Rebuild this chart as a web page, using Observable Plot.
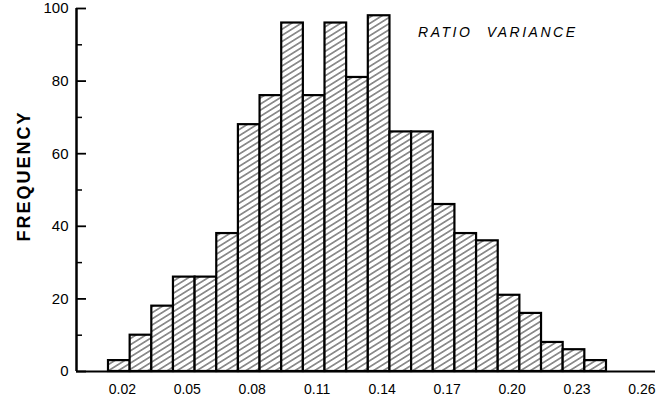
<!DOCTYPE html>
<html><head><meta charset="utf-8">
<script src="https://cdn.jsdelivr.net/npm/d3@7"></script>
<script src="https://cdn.jsdelivr.net/npm/@observablehq/plot@0.6"></script>
<style>body{margin:0;background:#fff}</style>
</head><body>
<svg width="0" height="0" style="position:absolute">
  <defs>
    <pattern id="hatch" patternUnits="userSpaceOnUse" width="10" height="5.2" patternTransform="rotate(-32)">
      <rect width="10" height="5.2" fill="#fff"></rect>
      <line x1="0" x2="10" y1="2.6" y2="2.6" stroke="#333" stroke-width="1"></line>
    </pattern>
  </defs>
</svg>
<div id="chart"></div>
<script>
const binCenters = [0.02,0.03,0.04,0.05,0.06,0.07,0.08,0.09,0.10,0.11,0.12,0.13,0.14,0.15,0.16,0.17,0.18,0.19,0.20,0.21,0.22,0.23,0.24];
const frequency  = [3,10,18,26,26,38,68,76,96,76,96,81,98,66,66,46,38,36,21,16,8,6,3];
const xTicks = [0.02,0.05,0.08,0.11,0.14,0.17,0.20,0.23,0.26];
const xTickLabels = ["0.02","0.05","0.08","0.11","0.14","0.17","0.20","0.23","0.26"];
const yLabelTicks = [0,20,40,60,80,100];
const yMinorTicks = [10,30,50,70,90];
const binWidth = 0.01;
const xLabel = "RATIO VARIANCE";
const yLabel = "FREQUENCY";

const bins = binCenters.map((c,i)=>({x1:c-binWidth/2, x2:c+binWidth/2, freq:frequency[i]}));

const W = 658, H = 406, mL = 76, mR = 3, mT = 8, mB = 35;
const frameW = W - mL - mR;
const xDomain = [0.00022, 0.26764];
const yDomain = [0, 100];
const font = "'Liberation Sans', Arial, sans-serif";

const plot = Plot.plot({
  width: W, height: H,
  marginLeft: mL, marginRight: mR, marginTop: mT, marginBottom: mB,
  style: {fontFamily: font},
  x: {domain: xDomain},
  y: {domain: yDomain},
  marks: [
    Plot.rectY(bins, {x1: "x1", x2: "x2", y: "freq", fill: "url(#hatch)", stroke: "#000", strokeWidth: 2.2}),
    Plot.ruleY([0], {stroke: "#000", strokeWidth: 2}),
    Plot.ruleX([xDomain[0]], {y1: yDomain[0], y2: yDomain[1], stroke: "#000", strokeWidth: 2.5}),
    Plot.tickY(yLabelTicks, {y: d => d, insetRight: frameW - 10, stroke: "#000", strokeWidth: 1.8}),
    Plot.tickY(yMinorTicks, {y: d => d, insetRight: frameW - 6, stroke: "#000", strokeWidth: 1.5}),
    Plot.axisY(yLabelTicks, {tickSize: 0, tickPadding: 8, label: null, fontSize: 15, fill: "#000"}),
    Plot.axisX(xTicks, {tickSize: 0, tickPadding: 13, dx: 3, label: null, fontSize: 14, fill: "#000",
      tickFormat: (d) => xTickLabels[xTicks.indexOf(d)]}),
    Plot.text([xLabel], {frameAnchor: "top-right", textAnchor: "end", dx: -78, dy: 19,
      fontSize: 14, fontStyle: "italic", fill: "#000"}),
    Plot.text([yLabel], {frameAnchor: "left", textAnchor: "middle", rotate: -90, dx: -52, dy: -14,
      fontSize: 18, fontWeight: "bold", fill: "#000"})
  ]
});

d3.select(plot).selectAll("text").each(function() {
  const t = d3.select(this).text();
  if (t === yLabel) d3.select(this).attr("letter-spacing", 2);
  if (t === xLabel) d3.select(this).attr("letter-spacing", 2.5).attr("word-spacing", 8);
});

document.getElementById("chart").appendChild(plot);
</script>
</body></html>
